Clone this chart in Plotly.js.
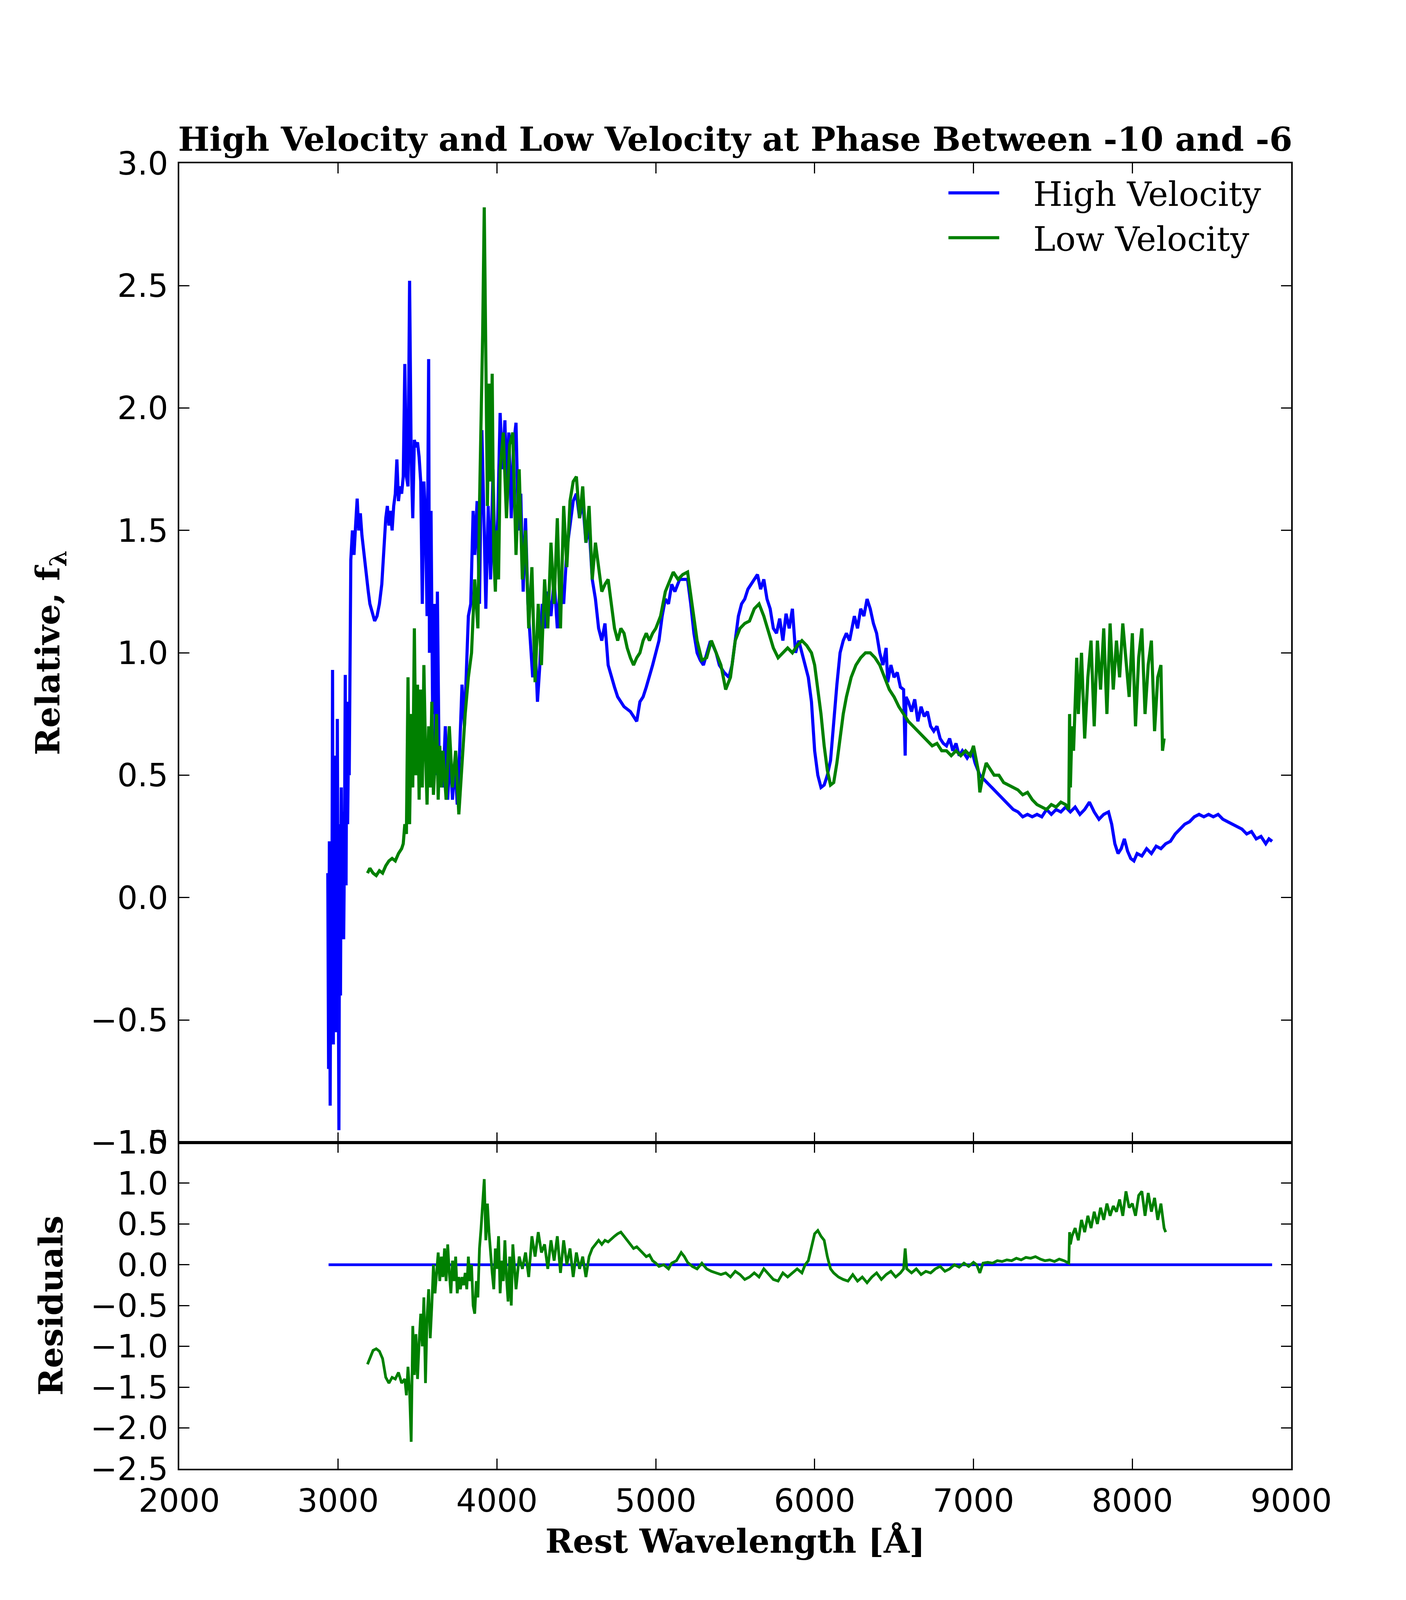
<!DOCTYPE html>
<html>
<head>
<meta charset="utf-8">
<script src="https://cdn.plot.ly/plotly-3.0.1.min.js"></script>
<style>
  html, body { margin: 0; padding: 0; background: #ffffff; overflow: hidden; }
  #chart { width: 3600px; }
</style>
</head>
<body>
<div id="chart"></div>
<script>
// high velocity spectrum (blue)
const hvWave = [
    2935, 2940, 2945, 2950, 2955, 2960, 2965, 2970, 2975, 2980,
    2985, 2990, 2995, 3000, 3005, 3010, 3015, 3020, 3025, 3030,
    3035, 3040, 3045, 3050, 3055, 3060, 3065, 3070, 3075, 3080,
    3090, 3100, 3110, 3120, 3130, 3140, 3150, 3160, 3170, 3180,
    3190, 3200, 3215, 3230, 3245, 3260, 3275, 3290, 3300, 3310,
    3320, 3330, 3340, 3350, 3360, 3370, 3380, 3390, 3400, 3410,
    3420, 3430, 3440, 3450, 3460, 3470, 3480, 3490, 3500, 3510,
    3520, 3530, 3540, 3550, 3560, 3570, 3575, 3585, 3595, 3605,
    3615, 3625, 3635, 3645, 3660, 3675, 3690, 3705, 3720, 3735,
    3750, 3765, 3780, 3795, 3810, 3820, 3835, 3850, 3860, 3875,
    3890, 3905, 3920, 3930, 3945, 3960, 3975, 3990, 4005, 4020,
    4035, 4050, 4060, 4075, 4090, 4105, 4120, 4135, 4150, 4165,
    4180, 4195, 4210, 4225, 4240, 4255, 4270, 4285, 4300, 4320,
    4340, 4360, 4380, 4400, 4420, 4440, 4460, 4480, 4500, 4520,
    4540, 4560, 4580, 4600, 4620, 4640, 4660, 4680, 4700, 4720,
    4740, 4760, 4780, 4800, 4820, 4840, 4860, 4880, 4900, 4920,
    4940, 4960, 4980, 5000, 5020, 5040, 5060, 5080, 5100, 5120,
    5150, 5180, 5200, 5220, 5240, 5260, 5280, 5300, 5320, 5340,
    5360, 5380, 5400, 5430, 5460, 5480, 5500, 5520, 5540, 5560,
    5580, 5600, 5620, 5640, 5660, 5680, 5700, 5720, 5740, 5760,
    5780, 5800, 5820, 5840, 5860, 5880, 5900, 5920, 5940, 5960,
    5980, 6000, 6020, 6040, 6060, 6080, 6100, 6120, 6140, 6160,
    6180, 6200, 6220, 6250, 6270, 6290, 6310, 6330, 6350, 6370,
    6390, 6410, 6430, 6450, 6460, 6480, 6500, 6520, 6540, 6560,
    6570, 6575, 6590, 6610, 6630, 6650, 6670, 6690, 6710, 6730,
    6750, 6770, 6790, 6810, 6830, 6850, 6870, 6890, 6910, 6930,
    6960, 6990, 7010, 7040, 7070, 7100, 7130, 7160, 7190, 7220,
    7250, 7280, 7310, 7340, 7370, 7400, 7430, 7460, 7490, 7520,
    7550, 7580, 7610, 7640, 7670, 7700, 7730, 7760, 7790, 7820,
    7850, 7870, 7890, 7910, 7930, 7950, 7970, 7990, 8010, 8030,
    8060, 8090, 8120, 8150, 8180, 8210, 8240, 8270, 8300, 8330,
    8360, 8390, 8420, 8450, 8480, 8510, 8540, 8570, 8600, 8630,
    8660, 8690, 8720, 8750, 8780, 8810, 8840, 8860, 8880
];
const hvFlux = [
    0.1, -0.7, 0.23, -0.85, 0.12, -0.35, 0.93, -0.6, 0.58, -0.3,
    0.45, -0.55, 0.73, -0.6, -0.95, 0.3, -0.4, 0.45, 0.0, 0.35,
    -0.17, 0.2, 0.91, 0.05, 0.8, 0.3, 0.6, 0.5, 1.1, 1.38,
    1.5, 1.4, 1.52, 1.63, 1.5, 1.57, 1.48, 1.42, 1.35, 1.3,
    1.25, 1.2, 1.16, 1.13, 1.15, 1.2, 1.28, 1.45, 1.55, 1.6,
    1.52, 1.58, 1.5, 1.6, 1.65, 1.79, 1.62, 1.68, 1.65, 1.72,
    2.18, 1.72, 1.68, 2.52, 1.8, 1.55, 1.87, 1.84, 1.86, 1.8,
    1.7, 1.2, 1.7, 1.55, 1.15, 2.2, 1.0, 1.58, 0.75, 1.2,
    0.5, 1.25, 0.6, 0.55, 0.45, 0.7, 0.4, 0.6, 0.4, 0.55,
    0.38, 0.6, 0.87, 0.7, 0.95, 1.15, 1.2, 1.58, 1.4, 1.62,
    1.2, 1.91, 1.5, 1.18, 1.6, 1.3, 1.75, 1.3, 1.55, 1.98,
    1.75, 1.95, 1.7, 1.9, 1.55, 1.85, 1.94, 1.5, 1.65, 1.25,
    1.55, 1.2, 1.05, 0.9, 1.05, 0.8, 0.95, 1.2, 1.1, 1.25,
    1.15, 1.3, 1.1, 1.3, 1.2, 1.42, 1.52, 1.62, 1.65, 1.55,
    1.62, 1.45, 1.52, 1.3, 1.22, 1.1, 1.05, 1.12, 0.95, 0.9,
    0.86, 0.82, 0.8, 0.78, 0.77, 0.76, 0.74, 0.72, 0.8, 0.82,
    0.86, 0.9, 0.95, 1.0, 1.05, 1.15, 1.22, 1.2, 1.28, 1.25,
    1.3, 1.3, 1.3, 1.2, 1.08, 1.0, 0.97, 0.95, 1.0, 1.04,
    1.03, 1.0, 0.95, 0.92, 0.9, 0.95, 1.05, 1.15, 1.2, 1.22,
    1.26, 1.28, 1.3, 1.32, 1.26, 1.3, 1.22, 1.18, 1.1, 1.08,
    1.14, 1.05, 1.16, 1.1, 1.18, 1.0, 1.05, 1.0, 0.95, 0.9,
    0.8, 0.6, 0.5, 0.45, 0.46, 0.5, 0.56, 0.72, 0.87, 1.0,
    1.05, 1.08, 1.05, 1.15, 1.1, 1.18, 1.15, 1.22, 1.18, 1.12,
    1.08, 1.0, 0.95, 1.02, 0.88, 0.95, 0.9, 0.92, 0.86, 0.85,
    0.58, 0.82, 0.8, 0.76, 0.81, 0.72, 0.78, 0.74, 0.76, 0.7,
    0.68, 0.7, 0.65, 0.63, 0.62, 0.65, 0.6, 0.63, 0.58, 0.6,
    0.57, 0.6, 0.55, 0.5, 0.48, 0.46, 0.44, 0.42, 0.4, 0.38,
    0.36, 0.35, 0.33, 0.34, 0.33, 0.34, 0.33, 0.36, 0.34, 0.36,
    0.35, 0.37, 0.35, 0.37, 0.34, 0.36, 0.39, 0.35, 0.32, 0.34,
    0.35, 0.3, 0.22, 0.18, 0.2, 0.24, 0.19, 0.16, 0.15, 0.18,
    0.17, 0.2, 0.18, 0.21, 0.2, 0.22, 0.23, 0.26, 0.28, 0.3,
    0.31, 0.33, 0.34, 0.33, 0.34, 0.33, 0.34, 0.32, 0.31, 0.3,
    0.29, 0.28, 0.26, 0.27, 0.24, 0.25, 0.22, 0.24, 0.23
];

// low velocity spectrum (green)
const lvWave = [
    3185, 3200, 3220, 3240, 3260, 3280, 3300, 3320, 3340, 3360,
    3380, 3400, 3410, 3420, 3430, 3440, 3450, 3460, 3470, 3480,
    3490, 3500, 3510, 3520, 3530, 3540, 3550, 3560, 3570, 3580,
    3590, 3600, 3610, 3620, 3630, 3640, 3650, 3660, 3680, 3700,
    3720, 3740, 3760, 3780, 3800, 3820, 3840, 3860, 3880, 3890,
    3900, 3910, 3920, 3930, 3940, 3950, 3960, 3970, 3980, 3990,
    4000, 4010, 4020, 4040, 4060, 4080, 4100, 4120, 4140, 4160,
    4180, 4200, 4220, 4240, 4260, 4280, 4300, 4320, 4340, 4360,
    4380, 4400, 4420, 4440, 4460, 4480, 4500, 4520, 4540, 4560,
    4580, 4600, 4620, 4640, 4660, 4680, 4700, 4720, 4740, 4760,
    4780, 4800, 4820, 4840, 4860, 4880, 4900, 4920, 4940, 4960,
    4980, 5000, 5030, 5060, 5090, 5110, 5140, 5170, 5200, 5230,
    5260, 5290, 5320, 5350, 5380, 5410, 5440, 5470, 5500, 5530,
    5560, 5590, 5620, 5650, 5680, 5710, 5740, 5770, 5800, 5830,
    5860, 5890, 5920, 5950, 5980, 6000, 6020, 6040, 6060, 6080,
    6100, 6120, 6140, 6160, 6180, 6200, 6230, 6260, 6290, 6320,
    6350, 6380, 6410, 6440, 6470, 6500, 6530, 6560, 6590, 6620,
    6650, 6680, 6710, 6740, 6770, 6800, 6830, 6860, 6890, 6920,
    6950, 6980, 7000, 7030, 7040, 7060, 7080, 7100, 7130, 7160,
    7190, 7220, 7250, 7280, 7310, 7340, 7370, 7400, 7430, 7460,
    7490, 7520, 7550, 7580, 7600, 7605, 7610, 7620, 7630, 7650,
    7660, 7680, 7700, 7720, 7740, 7760, 7780, 7800, 7820, 7840,
    7860, 7880, 7900, 7920, 7940, 7960, 7980, 8000, 8020, 8040,
    8060, 8080, 8100, 8120, 8140, 8160, 8180, 8190, 8200
];
const lvFlux = [
    0.1, 0.12, 0.1, 0.09, 0.11, 0.1, 0.13, 0.15, 0.16, 0.15,
    0.18, 0.2, 0.22, 0.3, 0.26, 0.9, 0.3, 0.75, 0.45, 1.1,
    0.5, 0.87, 0.4, 0.85, 0.45, 0.95, 0.6, 0.38, 0.7, 0.45,
    0.8, 0.42, 0.55, 0.75, 0.4, 0.62, 0.45, 0.6, 0.4, 0.7,
    0.45, 0.6, 0.34, 0.55, 0.75, 0.9, 1.0, 1.3, 1.1, 1.6,
    1.9, 2.3, 2.82, 2.2, 1.6, 2.1, 1.7, 2.14, 1.4, 1.25,
    1.5, 1.3, 1.75, 1.9, 1.55, 1.85, 1.9, 1.4, 1.75, 1.3,
    1.5, 1.1, 1.35, 0.88, 1.2, 0.95, 1.3, 1.1, 1.45, 1.2,
    1.55, 1.1, 1.6, 1.35, 1.62, 1.7, 1.72, 1.55, 1.68, 1.45,
    1.6, 1.3, 1.45, 1.35, 1.25, 1.28, 1.3, 1.2, 1.1, 1.05,
    1.1, 1.08, 1.02, 0.98, 0.95, 0.98, 1.0, 1.05, 1.08, 1.05,
    1.08, 1.1, 1.15, 1.25, 1.3, 1.33, 1.3, 1.32, 1.33, 1.2,
    1.05, 0.97, 0.98, 1.05, 1.0, 0.95, 0.85, 0.9, 1.05, 1.1,
    1.12, 1.13, 1.18, 1.2, 1.15, 1.08, 1.02, 0.98, 1.0, 1.02,
    1.0, 1.03, 1.05, 1.03, 1.0, 0.95, 0.85, 0.75, 0.62, 0.52,
    0.46, 0.47, 0.55, 0.65, 0.75, 0.82, 0.9, 0.95, 0.98, 1.0,
    1.0, 0.98, 0.95, 0.9, 0.85, 0.82, 0.78, 0.75, 0.72, 0.7,
    0.68, 0.66, 0.64, 0.62, 0.63, 0.6, 0.6, 0.58, 0.6, 0.58,
    0.6, 0.58, 0.62, 0.52, 0.43, 0.5, 0.55, 0.53, 0.5, 0.5,
    0.47, 0.46, 0.45, 0.44, 0.42, 0.43, 0.4, 0.38, 0.37, 0.36,
    0.38, 0.37, 0.39, 0.38, 0.36, 0.75, 0.45, 0.7, 0.6, 0.98,
    0.75, 1.0, 0.65, 0.9, 1.05, 0.7, 1.05, 0.85, 1.1, 0.75,
    1.12, 0.85, 1.05, 0.9, 1.12, 0.95, 0.82, 1.08, 0.7, 0.98,
    1.1, 0.75, 0.95, 1.05, 0.68, 0.9, 0.95, 0.6, 0.65
];

// residuals against the high velocity spectrum
const hvResWave = [2940, 8880];
const hvResid = [0.0, 0.0];

const lvResWave = [
    3185, 3200, 3220, 3240, 3260, 3280, 3300, 3320, 3340, 3360,
    3380, 3400, 3420, 3430, 3440, 3450, 3460, 3470, 3480, 3490,
    3500, 3510, 3520, 3530, 3540, 3550, 3560, 3570, 3580, 3590,
    3600, 3610, 3620, 3630, 3640, 3650, 3660, 3670, 3680, 3690,
    3700, 3710, 3720, 3730, 3740, 3750, 3760, 3770, 3780, 3790,
    3800, 3810, 3820, 3830, 3840, 3850, 3860, 3870, 3880, 3890,
    3900, 3910, 3920, 3930, 3940, 3950, 3960, 3970, 3980, 3990,
    4000, 4010, 4020, 4030, 4040, 4050, 4060, 4070, 4080, 4090,
    4100, 4120, 4140, 4160, 4180, 4200, 4220, 4240, 4260, 4280,
    4300, 4320, 4340, 4360, 4380, 4400, 4420, 4440, 4460, 4480,
    4500, 4520, 4540, 4560, 4580, 4600, 4620, 4640, 4660, 4680,
    4700, 4720, 4740, 4760, 4780, 4800, 4820, 4840, 4860, 4880,
    4900, 4920, 4940, 4960, 4980, 5000, 5020, 5050, 5080, 5100,
    5130, 5160, 5180, 5200, 5230, 5260, 5290, 5320, 5350, 5380,
    5410, 5440, 5470, 5500, 5530, 5560, 5590, 5620, 5650, 5680,
    5710, 5740, 5770, 5800, 5830, 5860, 5890, 5920, 5940, 5960,
    5980, 6000, 6020, 6040, 6060, 6080, 6100, 6120, 6150, 6180,
    6210, 6240, 6270, 6300, 6330, 6360, 6390, 6420, 6450, 6480,
    6510, 6540, 6560, 6570, 6580, 6610, 6640, 6670, 6700, 6730,
    6760, 6790, 6820, 6850, 6880, 6910, 6940, 6970, 7000, 7020,
    7040, 7060, 7090, 7120, 7150, 7180, 7210, 7240, 7270, 7300,
    7330, 7360, 7390, 7420, 7450, 7480, 7510, 7540, 7570, 7600,
    7605, 7610, 7620, 7640, 7660, 7680, 7700, 7720, 7740, 7760,
    7780, 7800, 7820, 7840, 7860, 7880, 7900, 7920, 7940, 7960,
    7980, 8000, 8020, 8040, 8060, 8080, 8100, 8120, 8140, 8160,
    8180, 8200, 8210
];
const lvResid = [
    -1.22, -1.15, -1.05, -1.03, -1.06, -1.15, -1.38, -1.45, -1.38, -1.4,
    -1.32, -1.45, -1.4, -1.6, -1.25, -1.55, -2.17, -0.75, -1.35, -0.85,
    -1.4, -0.95, -0.6, -1.0, -0.4, -1.45, -0.65, -0.3, -0.9, -0.5,
    0.0, -0.35, -0.1, 0.15, -0.2, 0.1, -0.15, 0.2, -0.2, 0.25,
    -0.1, -0.35, 0.05, -0.2, 0.1, -0.35, -0.15, -0.3, -0.15, -0.25,
    -0.1, -0.3, 0.1, -0.2, 0.0, -0.5, -0.6, -0.2, -0.4, 0.2,
    0.45, 0.7, 1.05, 0.3, 0.75, 0.4, 0.1, -0.1, -0.3, 0.2,
    -0.05, 0.35, -0.35, 0.05, -0.2, 0.3, -0.15, -0.45, 0.1, -0.5,
    0.25, -0.3, 0.1, -0.05, 0.15, -0.15, 0.35, 0.1, 0.4, 0.15,
    0.25, -0.05, 0.3, 0.05, 0.35, -0.1, 0.3, 0.0, 0.2, -0.15,
    0.15, -0.05, 0.1, -0.15, 0.1, 0.2, 0.25, 0.3, 0.25, 0.3,
    0.28, 0.32, 0.35, 0.38, 0.4, 0.35, 0.3, 0.25, 0.2, 0.22,
    0.18, 0.15, 0.1, 0.12, 0.05, 0.02, -0.02, 0.0, -0.05, 0.02,
    0.05, 0.15, 0.1, 0.03, -0.02, -0.05, 0.02, -0.05, -0.08, -0.1,
    -0.12, -0.1, -0.15, -0.08, -0.12, -0.18, -0.15, -0.1, -0.15, -0.05,
    -0.12, -0.18, -0.2, -0.1, -0.15, -0.1, -0.05, -0.1, 0.0, 0.05,
    0.2, 0.38, 0.42, 0.35, 0.3, 0.1, -0.05, -0.1, -0.15, -0.18,
    -0.2, -0.12, -0.2, -0.15, -0.22, -0.15, -0.1, -0.18, -0.12, -0.08,
    -0.15, -0.1, -0.05, 0.2, -0.05, -0.1, -0.05, -0.12, -0.08, -0.1,
    -0.05, -0.02, -0.08, -0.05, 0.0, -0.03, 0.02, -0.02, 0.03, 0.0,
    -0.1, 0.02, 0.03, 0.02, 0.05, 0.04, 0.06, 0.05, 0.08, 0.06,
    0.09, 0.08, 0.1, 0.07, 0.05, 0.06, 0.04, 0.07, 0.05, 0.02,
    0.4, 0.25, 0.35, 0.45, 0.3, 0.55, 0.4, 0.6, 0.45, 0.65,
    0.5, 0.7, 0.55, 0.75, 0.6, 0.72, 0.65, 0.8, 0.6, 0.9,
    0.7, 0.75, 0.6, 0.85, 0.9, 0.6, 0.88, 0.65, 0.82, 0.55,
    0.75, 0.45, 0.4
];

const xTicks = [2000, 3000, 4000, 5000, 6000, 7000, 8000, 9000];
const fluxTicks = [-1.0, -0.5, 0.0, 0.5, 1.0, 1.5, 2.0, 2.5, 3.0];
const residTicks = [-2.5, -2.0, -1.5, -1.0, -0.5, 0.0, 0.5, 1.0, 1.5];

const BLUE = '#0000ff';
const GREEN = '#008000';
const SANS = 'DejaVu Sans, sans-serif';
const SERIF = 'DejaVu Serif, serif';
const GAP = '\u00a0\u00a0\u00a0';

// the window is only this tall, so the figure is laid out in fractions of it
const W = 3600;
const H = window.innerHeight || 4096;
const fy = H / 4800;

function makeTrace(x, y, color, name, xa, ya, legend, width) {
    return {
        x: x, y: y, name: GAP + name, mode: 'lines', type: 'scatter',
        xaxis: xa, yaxis: ya, legendgroup: name,
        showlegend: legend, line: {color: color, width: width}
    };
}

function frameAxis(extra) {
    const base = {
        showline: true, linecolor: '#000', linewidth: 4, mirror: 'allticks',
        ticks: 'inside', ticklen: 26, tickwidth: 3, tickcolor: '#000',
        showgrid: false, zeroline: false, ticklabelstandoff: 8,
        tickfont: {family: SANS, size: 82, color: '#000'}
    };
    return Object.assign(base, extra);
}

function labelFont() {
    return {family: SERIF, size: 85, weight: 'bold', color: '#000'};
}

const traces = [
    makeTrace(hvWave, hvFlux, BLUE, 'High Velocity', 'x', 'y', true, 8),
    makeTrace(lvWave, lvFlux, GREEN, 'Low Velocity', 'x', 'y', true, 8),
    makeTrace(hvResWave, hvResid, BLUE, 'High Velocity', 'x2', 'y2', false, 7),
    makeTrace(lvResWave, lvResid, GREEN, 'Low Velocity', 'x2', 'y2', false, 7)
];

const layout = {
    width: W,
    height: H,
    paper_bgcolor: '#ffffff',
    plot_bgcolor: '#ffffff',
    margin: {l: 459, r: 294, t: Math.round(490 * fy), b: Math.round(394 * fy)},
    title: {
        text: 'High Velocity and Low Velocity at Phase Between -10 and -6',
        font: labelFont(),
        x: 0.5, xref: 'paper', xanchor: 'center',
        y: 1, yref: 'paper', yanchor: 'bottom', pad: {b: 32}
    },
    showlegend: true,
    legend: {
        x: 0.69, y: 0.996, xanchor: 'left', yanchor: 'top',
        bgcolor: 'rgba(0,0,0,0)', borderwidth: 0,
        font: {family: SERIF, size: 86, color: '#000'},
        itemwidth: 130, tracegroupgap: 0
    },
    xaxis: frameAxis({
        domain: [0, 1], range: [2000, 9000], anchor: 'y',
        tickvals: xTicks, showticklabels: false
    }),
    yaxis: frameAxis({
        domain: [0.25, 1], range: [-1.0, 3.0], anchor: 'x',
        tickvals: fluxTicks, tickformat: '.1f',
        title: {text: 'Relative, f<sub>λ</sub>', standoff: 52, font: labelFont()}
    }),
    xaxis2: frameAxis({
        domain: [0, 1], range: [2000, 9000], anchor: 'y2',
        tickvals: xTicks, tickformat: 'd',
        title: {text: 'Rest Wavelength [Å]', standoff: 28, font: labelFont()}
    }),
    yaxis2: frameAxis({
        domain: [0, 0.25], range: [-2.5, 1.5], anchor: 'x2',
        tickvals: residTicks, tickformat: '.1f',
        title: {text: 'Residuals', standoff: 44, font: labelFont()}
    })
};

const config = {staticPlot: true, displayModeBar: false};

Plotly.newPlot('chart', traces, layout, config);
</script>
</body>
</html>
